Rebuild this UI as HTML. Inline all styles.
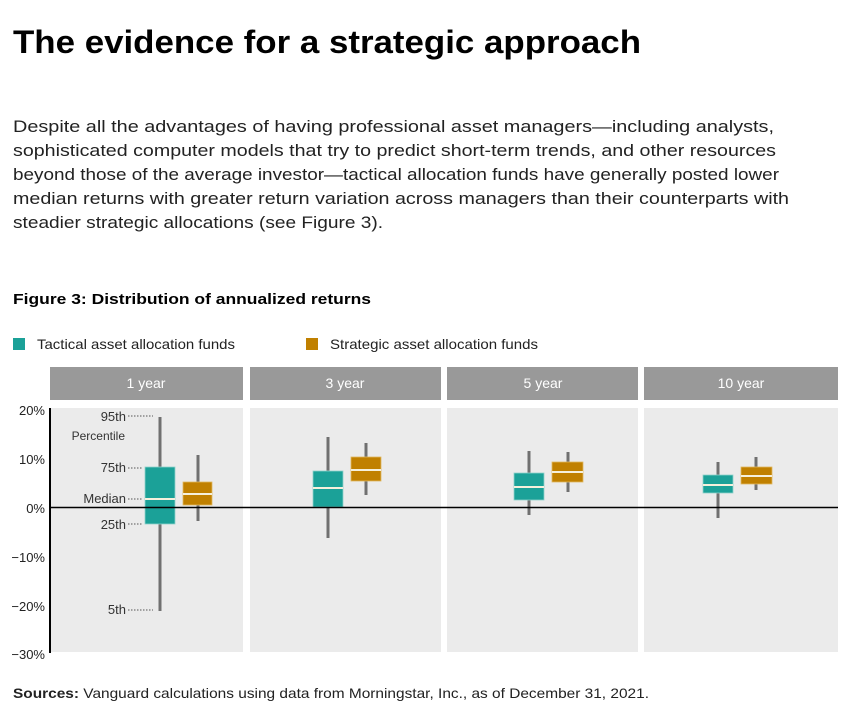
<!DOCTYPE html>
<html><head><meta charset="utf-8"><style>
html,body{margin:0;padding:0;background:#fff;}
svg{display:block;font-family:"Liberation Sans",sans-serif;}
</style></head><body>
<svg width="843" height="720" viewBox="0 0 843 720" xmlns="http://www.w3.org/2000/svg">
<rect width="843" height="720" fill="#fff"/>
<text x="13" y="53" font-size="32" font-weight="bold" fill="#000" textLength="628" lengthAdjust="spacingAndGlyphs">The evidence for a strategic approach</text>
<g font-size="17" fill="#222">
<text x="13" y="132" textLength="761" lengthAdjust="spacingAndGlyphs">Despite all the advantages of having professional asset managers—including analysts,</text>
<text x="13" y="156" textLength="763" lengthAdjust="spacingAndGlyphs">sophisticated computer models that try to predict short-term trends, and other resources</text>
<text x="13" y="180" textLength="766" lengthAdjust="spacingAndGlyphs">beyond those of the average investor—tactical allocation funds have generally posted lower</text>
<text x="13" y="204" textLength="776" lengthAdjust="spacingAndGlyphs">median returns with greater return variation across managers than their counterparts with</text>
<text x="13" y="228" textLength="370" lengthAdjust="spacingAndGlyphs">steadier strategic allocations (see Figure 3).</text>
</g>
<text x="13" y="304" font-size="15" font-weight="bold" fill="#000" textLength="358" lengthAdjust="spacingAndGlyphs">Figure 3: Distribution of annualized returns</text>
<rect x="13" y="338" width="12" height="12" fill="#1ba198"/>
<text x="37" y="349" font-size="14" fill="#222" textLength="198" lengthAdjust="spacingAndGlyphs">Tactical asset allocation funds</text>
<rect x="306" y="338" width="12" height="12" fill="#c08000"/>
<text x="330" y="349" font-size="14" fill="#222" textLength="208" lengthAdjust="spacingAndGlyphs">Strategic asset allocation funds</text>
<!-- panels -->
<g fill="#999">
<rect x="50" y="367" width="193" height="33"/>
<rect x="250" y="367" width="191" height="33"/>
<rect x="447" y="367" width="191" height="33"/>
<rect x="644" y="367" width="194" height="33"/>
</g>
<g fill="#fff" font-size="14" text-anchor="middle">
<text x="146" y="388">1 year</text>
<text x="345" y="388">3 year</text>
<text x="543" y="388">5 year</text>
<text x="741" y="388">10 year</text>
</g>
<g fill="#ebebeb">
<rect x="50" y="408" width="193" height="244"/>
<rect x="250" y="408" width="191" height="244"/>
<rect x="447" y="408" width="191" height="244"/>
<rect x="644" y="408" width="194" height="244"/>
</g>
<!-- axis -->
<line x1="50" y1="408" x2="50" y2="653" stroke="#000" stroke-width="2"/>
<g font-size="13" fill="#222" text-anchor="end">
<text x="45" y="415">20%</text>
<text x="45" y="464">10%</text>
<text x="45" y="513">0%</text>
<text x="45" y="562">−10%</text>
<text x="45" y="611">−20%</text>
<text x="45" y="659">−30%</text>
</g>
<!-- annotations -->
<g font-size="13" fill="#333" text-anchor="end">
<text x="126" y="421">95th</text>
<text x="125" y="440" font-size="12">Percentile</text>
<text x="126" y="472">75th</text>
<text x="126" y="503">Median</text>
<text x="126" y="529">25th</text>
<text x="126" y="614">5th</text>
</g>
<g stroke="#555" stroke-width="1" stroke-dasharray="1.5,1.5">
<line x1="128" y1="416" x2="153" y2="416"/>
<line x1="128" y1="468" x2="142" y2="468"/>
<line x1="128" y1="499" x2="142" y2="499"/>
<line x1="128" y1="524" x2="142" y2="524"/>
<line x1="128" y1="610" x2="153" y2="610"/>
</g>
<!-- whiskers -->
<g stroke="#707070" stroke-width="3">
<line x1="160" y1="417" x2="160" y2="611"/>
<line x1="198" y1="455" x2="198" y2="521"/>
<line x1="328" y1="437" x2="328" y2="538"/>
<line x1="366" y1="443" x2="366" y2="495"/>
<line x1="529" y1="451" x2="529" y2="515"/>
<line x1="568" y1="452" x2="568" y2="492"/>
<line x1="718" y1="462" x2="718" y2="518"/>
<line x1="756" y1="457" x2="756" y2="490"/>
</g>
<!-- boxes -->
<g fill="#1ba198" stroke="#8fd3cc" stroke-width="0.8">
<rect x="145" y="467" width="30" height="57"/>
<rect x="313" y="471" width="30" height="36"/>
<rect x="514" y="473" width="30" height="27"/>
<rect x="703" y="475" width="30" height="18"/>
</g>
<g fill="#c08000" stroke="#e0b860" stroke-width="0.8">
<rect x="183" y="482" width="29" height="23"/>
<rect x="351" y="457" width="30" height="24"/>
<rect x="552" y="462" width="31" height="20"/>
<rect x="741" y="467" width="31" height="17"/>
</g>
<!-- zero line -->
<line x1="50" y1="507.5" x2="838" y2="507.5" stroke="#000" stroke-width="1.5"/>
<!-- medians -->
<g stroke="#f5f0dc" stroke-width="2">
<line x1="145" y1="499" x2="175" y2="499"/>
<line x1="183" y1="494" x2="212" y2="494"/>
<line x1="313" y1="488" x2="343" y2="488"/>
<line x1="351" y1="470" x2="381" y2="470"/>
<line x1="514" y1="487" x2="544" y2="487"/>
<line x1="552" y1="472" x2="583" y2="472"/>
<line x1="703" y1="485" x2="733" y2="485"/>
<line x1="741" y1="476" x2="772" y2="476"/>
</g>
<text x="13" y="698" font-size="14" fill="#222" textLength="636" lengthAdjust="spacingAndGlyphs"><tspan font-weight="bold">Sources:</tspan> Vanguard calculations using data from Morningstar, Inc., as of December 31, 2021.</text>
</svg>
</body></html>
